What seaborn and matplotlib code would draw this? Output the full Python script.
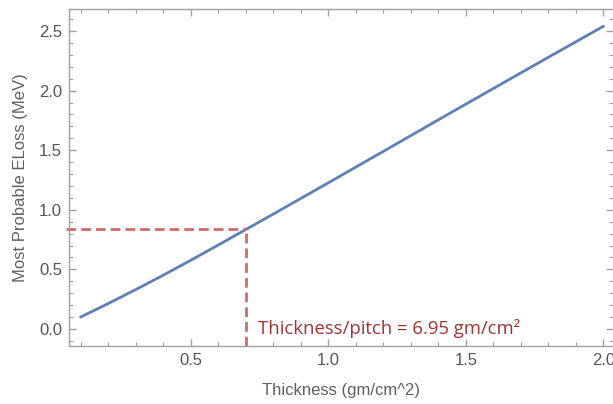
import matplotlib
matplotlib.use("Agg")
import matplotlib.pyplot as plt
import seaborn as sns
import pandas as pd
from matplotlib.ticker import MultipleLocator

thickness = [0.1, 0.2, 0.3, 0.4, 0.5, 0.6, 0.7, 0.8, 0.9, 1.0, 1.2, 1.4, 1.6, 1.8, 2.0]
eloss = [0.10, 0.213, 0.330, 0.451, 0.576, 0.704, 0.834, 0.964, 1.095, 1.226, 1.490, 1.755, 2.018, 2.280, 2.540]
mark_x = 0.7
mark_y = 0.835
note = "Thickness/pitch = 6.95 gm/cm²"

df = pd.DataFrame({"t": thickness, "e": eloss})

sns.set_style("ticks")
plt.rcParams["font.family"] = ["Liberation Sans", "DejaVu Sans"]

fig = plt.figure(figsize=(6.13, 4.04), dpi=100)
W, H = 613, 404
left, right, top, bottom = 69, 613, 9, 346
ax = fig.add_axes([left / W, 1 - bottom / H, (right - left) / W, (bottom - top) / H])

sns.lineplot(data=df, x="t", y="e", ax=ax, color="#5E81B5", linewidth=2.0)

x0 = 0.058
x1 = (613 - 53.5) / 275
y0 = -(346 - 329) / 119.2
y1 = (329 - 9) / 119.2
ax.set_xlim(x0, x1)
ax.set_ylim(y0, y1)

red = "#D16A6A"
ax.plot([x0 - 0.01, mark_x], [mark_y, mark_y], color=red, lw=2.0, ls=(0, (3.5, 1.8)), clip_on=False)
ax.plot([mark_x, mark_x], [y0, mark_y], color=red, lw=2.0, ls=(0, (3.5, 1.8)))

ax.text(0.745, 0.0, note, color="#A23434", fontsize=13.3, family=["Open Sans", "DejaVu Sans"],
        va="center", ha="left")

ax.xaxis.set_major_locator(MultipleLocator(0.5))
ax.xaxis.set_minor_locator(MultipleLocator(0.1))
ax.yaxis.set_major_locator(MultipleLocator(0.5))
ax.yaxis.set_minor_locator(MultipleLocator(0.1))
ax.xaxis.set_major_formatter(matplotlib.ticker.FormatStrFormatter("%.1f"))
ax.yaxis.set_major_formatter(matplotlib.ticker.FormatStrFormatter("%.1f"))

spine_col = "#A0A0A0"
for s in ax.spines.values():
    s.set_color(spine_col)
    s.set_linewidth(1.0)
ax.spines["right"].set_visible(False)

ax.tick_params(which="both", direction="in", top=True, right=True, colors=spine_col,
               labelcolor="#555555", labelsize=12)
ax.tick_params(which="major", length=5, width=1.0, pad=5)
ax.tick_params(which="minor", length=3, width=0.8)

ax.set_xlabel("Thickness (gm/cm^2)", color="#606060", fontsize=12, labelpad=11)
ax.set_ylabel("Most Probable ELoss (MeV)", color="#606060", fontsize=12, labelpad=8)

fig.savefig("out.png", dpi=100)
